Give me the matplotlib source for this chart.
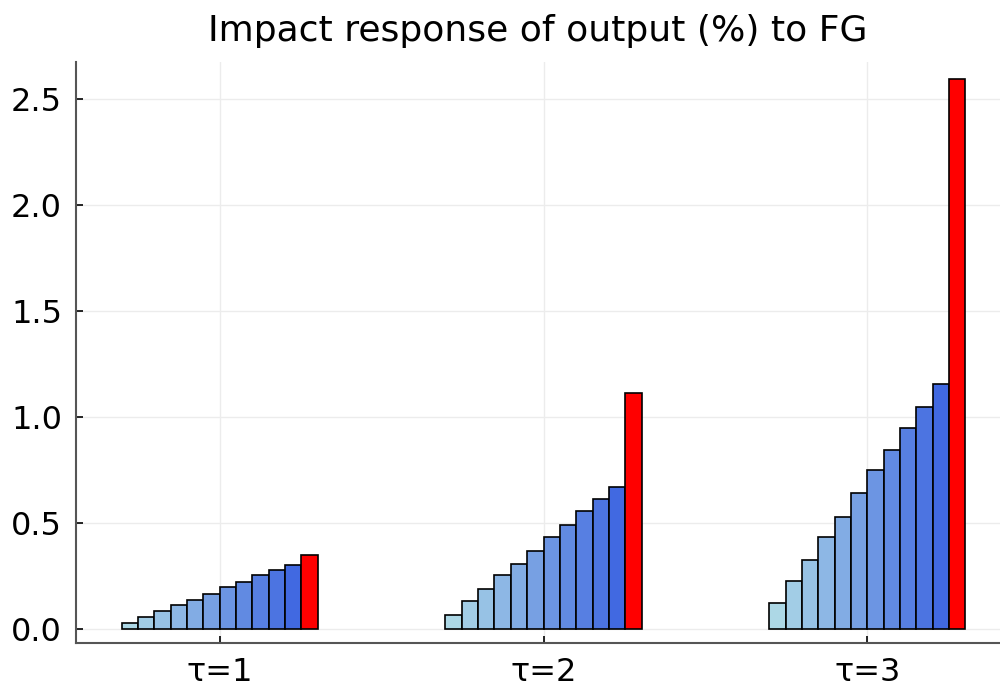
import matplotlib
matplotlib.use("Agg")
import matplotlib.pyplot as plt
import numpy as np
from matplotlib.colors import LinearSegmentedColormap

groups = ["τ=1", "τ=2", "τ=3"]
blue_series = [
    [0.028, 0.057, 0.083, 0.113, 0.138, 0.167, 0.196, 0.222, 0.253, 0.278, 0.303],
    [0.066, 0.132, 0.189, 0.255, 0.308, 0.369, 0.435, 0.492, 0.557, 0.615, 0.671],
    [0.122, 0.227, 0.326, 0.434, 0.528, 0.640, 0.748, 0.843, 0.950, 1.048, 1.155],
]
red_values = [0.349, 1.113, 2.592]
yticks = [0.0, 0.5, 1.0, 1.5, 2.0, 2.5]

fig = plt.figure(figsize=(10, 6.87), dpi=100)
ax = fig.add_axes([0.076, 0.064, 0.924, 0.846])

cmap = LinearSegmentedColormap.from_list("lb", ["#add8e6", "#4169e1"])
n_blue = len(blue_series[0])
n_bars = n_blue + 1
w = 0.0505
x = np.arange(1, len(groups) + 1)
for i in range(n_blue):
    vals = [blue_series[g][i] for g in range(len(groups))]
    off = (i - (n_bars - 1) / 2) * w
    ax.bar(x + off, vals, width=w, color=cmap(i / (n_blue - 1)),
           edgecolor="black", linewidth=1.2, zorder=3)
off = (n_blue - (n_bars - 1) / 2) * w
ax.bar(x + off, red_values, width=w, color="#ff0000",
       edgecolor="black", linewidth=1.2, zorder=3)

ax.set_xlim(0.556, 3.41)
ax.set_ylim(-0.066, 2.675)
ax.set_xticks(x)
ax.set_xticklabels(groups)
ax.set_yticks(yticks)
ax.set_yticklabels([f"{v:.1f}" for v in yticks])
ax.tick_params(direction="in", length=5, width=1.2, labelsize=23, color="black")
ax.tick_params(axis="y", pad=10)
ax.tick_params(axis="x", pad=10)
ax.grid(True, color="#ececec", linewidth=1.0, zorder=0)
for s in ["top", "right"]:
    ax.spines[s].set_visible(False)
for s in ["left", "bottom"]:
    ax.spines[s].set_color("#555555")
    ax.spines[s].set_linewidth(1.5)
ax.set_title("Impact response of output (%) to FG", fontsize=26, pad=15)

fig.savefig("out.png", dpi=100)
